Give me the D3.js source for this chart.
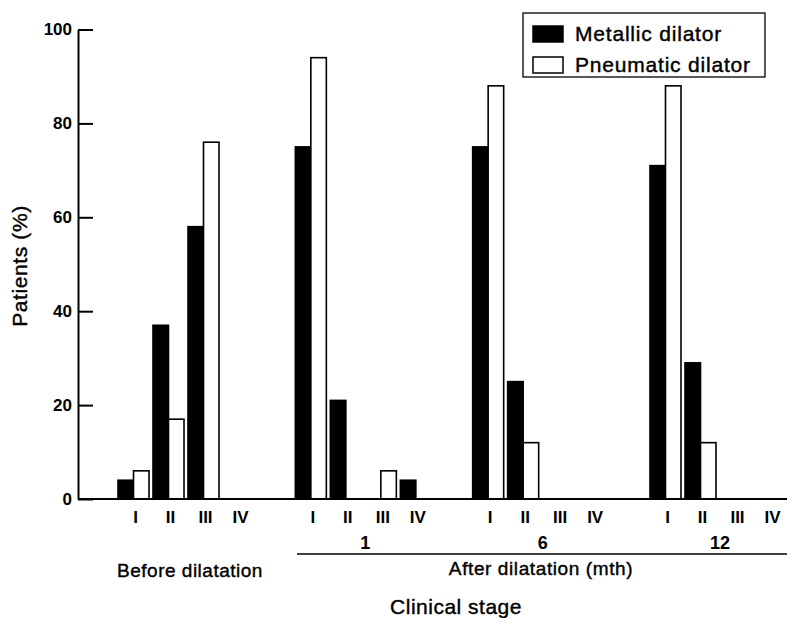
<!DOCTYPE html>
<html>
<head>
<meta charset="utf-8">
<script src="https://cdn.jsdelivr.net/npm/d3@7"></script>
<style>
  body { margin: 0; background: #fff; }
  text { font-family: "Liberation Sans", Arial, Helvetica, sans-serif; fill: #000; }
</style>
</head>
<body>
<div id="chart"></div>
<script>
// ---- data ----
const groups = ["Before", "1", "6", "12"];
const groupLabels = ["", "1", "6", "12"];
const stages = ["I", "II", "III", "IV"];
const series = ["Metallic dilator", "Pneumatic dilator"];
// values per group, in stage order I..IV
const metallic = [
    [4, 37, 58, 0],   // before dilatation
    [75, 21, 0, 4],   // 1 mth
    [75, 25, 0, 0],   // 6 mth
    [71, 29, 0, 0]    // 12 mth
];
const pneumatic = [
    [6, 17, 76, 0],
    [94, 0, 6, 0],
    [88, 12, 0, 0],
    [88, 12, 0, 0]
];
const yTicks = [0, 20, 40, 60, 80, 100];

const width = 787, height = 618;
const x0 = 78, yBase = 499, yTop = 29.5;

const svg = d3.select("#chart").append("svg")
    .attr("width", width)
    .attr("height", height);

// scales
const y = d3.scaleLinear().domain([0, 100]).range([yBase, yTop]);

const xGroup = d3.scaleBand()
    .domain(groups)
    .range([118, 786])
    .paddingInner(0.233)
    .paddingOuter(0);

const xStage = d3.scaleBand()
    .domain(stages)
    .range([0, xGroup.bandwidth()])
    .paddingInner(0.114)
    .paddingOuter(0);

const xSeries = d3.scaleBand()
    .domain(series)
    .range([0, xStage.bandwidth()]);

// flatten into bar records
const bars = [];
groups.forEach((g, gi) => {
    stages.forEach((s, si) => {
        bars.push({group: g, stage: s, series: series[0], value: metallic[gi][si]});
        bars.push({group: g, stage: s, series: series[1], value: pneumatic[gi][si]});
    });
});

// bars
svg.append("g")
    .selectAll("rect")
    .data(bars.filter(d => d.value > 0))
    .join("rect")
    .attr("x", d => xGroup(d.group) + xStage(d.stage) + xSeries(d.series))
    .attr("y", d => y(d.value))
    .attr("width", xSeries.bandwidth())
    .attr("height", d => yBase - y(d.value))
    .attr("fill", d => d.series === series[0] ? "#000" : "#fff")
    .attr("stroke", "#000")
    .attr("stroke-width", 1.6);

// y axis
const yAxis = svg.append("g")
    .attr("transform", `translate(${x0},0)`)
    .call(d3.axisLeft(y).tickValues(yTicks).tickSizeInner(-15).tickSizeOuter(0).tickPadding(6));
yAxis.select(".domain").attr("stroke-width", 2);
yAxis.selectAll(".tick line").attr("stroke-width", 2);
yAxis.selectAll(".tick text")
    .style("font-size", "17px")
    .style("font-weight", "bold")
    .attr("font-family", null);

// x baseline
svg.append("line")
    .attr("x1", x0).attr("x2", width)
    .attr("y1", yBase).attr("y2", yBase)
    .attr("stroke", "#000")
    .attr("stroke-width", 2);

// stage labels under each group
groups.forEach(g => {
    const ax = svg.append("g")
        .attr("transform", `translate(${xGroup(g) + 2},${yBase + 8})`)
        .call(d3.axisBottom(xStage).tickSize(0).tickPadding(0));
    ax.select(".domain").remove();
    ax.selectAll(".tick text")
        .attr("dy", "0.95em")
        .attr("font-family", null)
        .style("font-size", "17px")
        .style("font-weight", "bold");
});

// month labels
svg.append("g")
    .selectAll("text")
    .data(groups.slice(1))
    .join("text")
    .attr("x", d => xGroup(d) + xGroup.bandwidth() / 2 + 2)
    .attr("y", 549)
    .attr("text-anchor", "middle")
    .style("font-size", "18px")
    .style("font-weight", "bold")
    .text((d, i) => groupLabels[i + 1]);

svg.append("line")
    .attr("x1", 297).attr("x2", width)
    .attr("y1", 554).attr("y2", 554)
    .attr("stroke", "#000")
    .attr("stroke-width", 1.3);

// text with a thin stroke to mimic the medium print weight
function label(x, yPos, size, spacing, txt) {
    return svg.append("text")
        .attr("x", x).attr("y", yPos)
        .attr("text-anchor", "middle")
        .attr("stroke", "#000")
        .attr("stroke-width", 0.4)
        .style("font-size", size + "px")
        .style("letter-spacing", spacing + "px")
        .text(txt);
}

label(190, 577, 19, 0.5, "Before dilatation");
label(541, 575, 19, 0.6, "After dilatation (mth)");
label(456, 614, 21, 0.5, "Clinical stage");

label(-266, 27, 21, 0.6, "Patients (%)")
    .attr("transform", "rotate(-90)");

// legend
const legend = svg.append("g").attr("transform", "translate(523,13)");
legend.append("rect")
    .attr("width", 242).attr("height", 64)
    .attr("fill", "#fff")
    .attr("stroke", "#000")
    .attr("stroke-width", 1.3);
series.forEach((s, i) => {
    const row = legend.append("g").attr("transform", `translate(10,${13 + i * 31})`);
    row.append("rect")
        .attr("width", 30).attr("height", 16)
        .attr("fill", i === 0 ? "#000" : "#fff")
        .attr("stroke", "#000")
        .attr("stroke-width", 1.5);
    row.append("text")
        .attr("x", 42).attr("y", 15)
        .attr("stroke", "#000")
        .attr("stroke-width", 0.4)
        .style("font-size", "21px")
        .style("letter-spacing", "0.8px")
        .text(s);
});
</script>
</body>
</html>
